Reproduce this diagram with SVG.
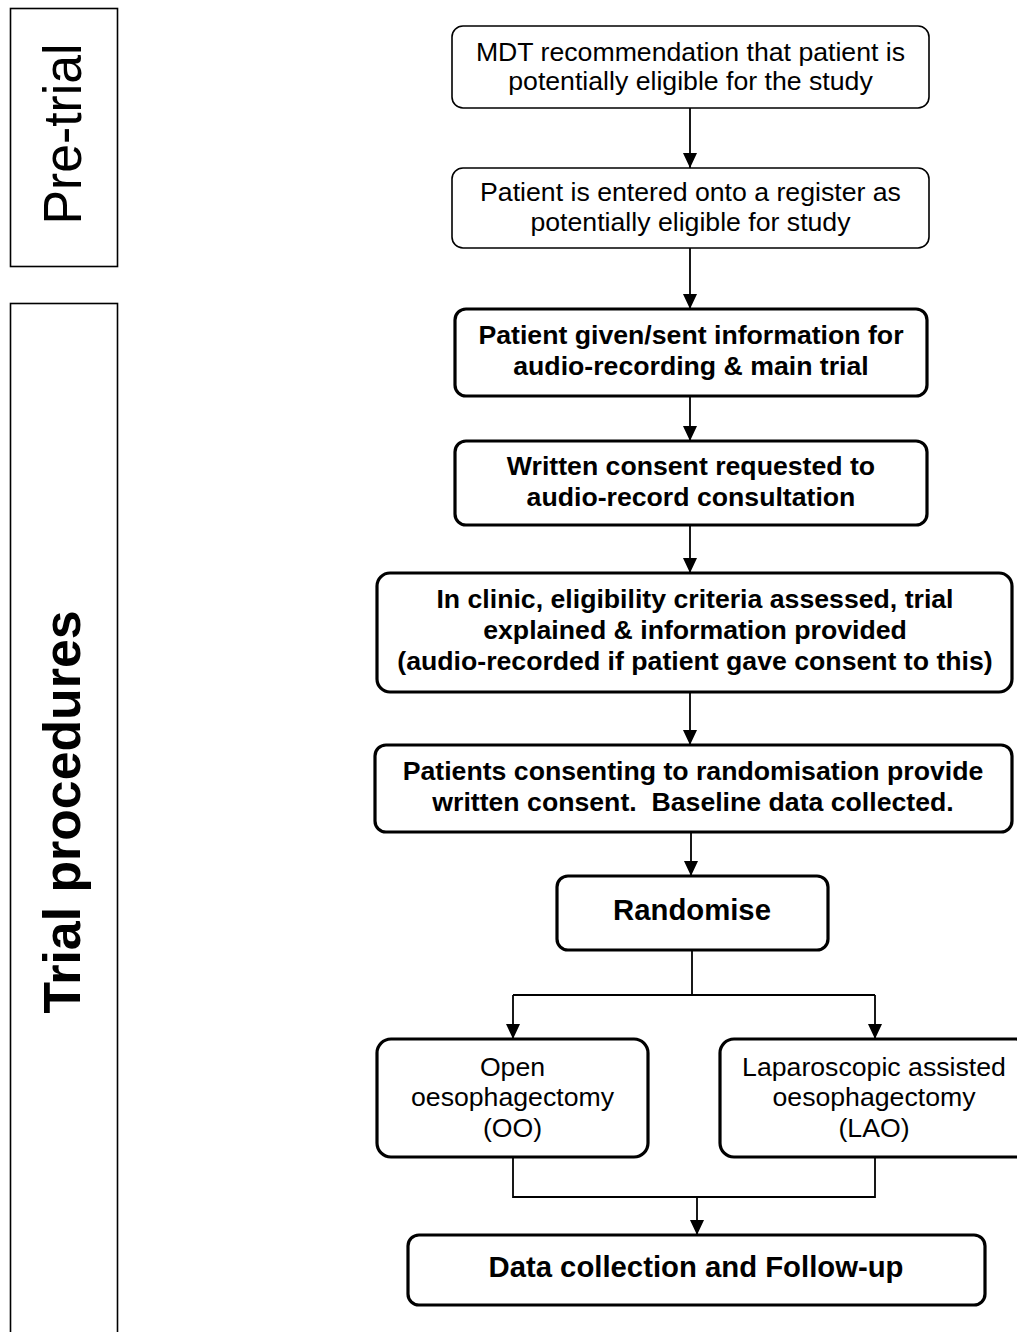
<svg xmlns="http://www.w3.org/2000/svg" width="1017" height="1332" viewBox="0 0 1017 1332">
<style>
.bg{fill:#fff}
.thin{fill:#fff;stroke:#000;stroke-width:1.6}
.thick{fill:#fff;stroke:#000;stroke-width:3.2}
.side{fill:#fff;stroke:#000;stroke-width:1.6}
.t{font-family:"Liberation Sans",Arial,sans-serif;font-size:26.67px;fill:#000;text-anchor:middle}
.b{font-weight:bold}
.big{font-size:29.3px}
.c{fill:none;stroke:#000;stroke-width:1.8}
</style>
<defs>
<marker id="ah" markerUnits="userSpaceOnUse" markerWidth="16" markerHeight="14" refX="15" refY="7" orient="auto">
<path d="M0,0 L15,7 L0,14 Z" fill="#000"/>
</marker>
</defs>
<rect class="bg" x="0" y="0" width="1017" height="1332"/>

<g id="label-pretrial">
<rect class="side" x="10.5" y="8.5" width="107" height="258"/>
<text class="t" style="font-size:54px" textLength="181" lengthAdjust="spacingAndGlyphs" transform="translate(81,134) rotate(-90)">Pre-trial</text>
</g>
<g id="label-trial">
<rect class="side" x="10.5" y="303.5" width="107" height="1040"/>
<text class="t b" style="font-size:52px" textLength="403" lengthAdjust="spacingAndGlyphs" transform="translate(80,812) rotate(-90)">Trial procedures</text>
</g>

<g id="connectors">
<line class="c" x1="690" y1="108" x2="690" y2="168" marker-end="url(#ah)"/>
<line class="c" x1="690" y1="248" x2="690" y2="309" marker-end="url(#ah)"/>
<line class="c" x1="690" y1="396" x2="690" y2="441" marker-end="url(#ah)"/>
<line class="c" x1="690" y1="525" x2="690" y2="573" marker-end="url(#ah)"/>
<line class="c" x1="690" y1="692" x2="690" y2="745" marker-end="url(#ah)"/>
<line class="c" x1="691" y1="832" x2="691" y2="876" marker-end="url(#ah)"/>
<polyline class="c" points="692,950 692,995"/>
<polyline class="c" points="513,995 875,995"/>
<line class="c" x1="513" y1="995" x2="513" y2="1039" marker-end="url(#ah)"/>
<line class="c" x1="875" y1="995" x2="875" y2="1039" marker-end="url(#ah)"/>
<polyline class="c" points="513,1157 513,1197 875,1197 875,1157"/>
<line class="c" x1="697" y1="1197" x2="697" y2="1235" marker-end="url(#ah)"/>
</g>

<g id="n1">
<rect class="thin" x="452" y="26" width="477" height="82" rx="11"/>
<text class="t" x="690.5" y="61">MDT recommendation that patient is</text>
<text class="t" x="690.5" y="90">potentially eligible for the study</text>
</g>
<g id="n2">
<rect class="thin" x="452" y="168" width="477" height="80" rx="11"/>
<text class="t" x="690.5" y="201">Patient is entered onto a register as</text>
<text class="t" x="690.5" y="231">potentially eligible for study</text>
</g>
<g id="n3">
<rect class="thick" x="455" y="309" width="472" height="87" rx="11"/>
<text class="t b" x="691" y="344">Patient given/sent information for</text>
<text class="t b" x="691" y="375">audio-recording &amp; main trial</text>
</g>
<g id="n4">
<rect class="thick" x="455" y="441" width="472" height="84" rx="11"/>
<text class="t b" x="691" y="475">Written consent requested to</text>
<text class="t b" x="691" y="506">audio-record consultation</text>
</g>
<g id="n5">
<rect class="thick" x="377" y="573" width="635" height="119" rx="13"/>
<text class="t b" x="695" y="608">In clinic, eligibility criteria assessed, trial</text>
<text class="t b" x="695" y="639">explained &amp; information provided</text>
<text class="t b" x="695" y="670">(audio-recorded if patient gave consent to this)</text>
</g>
<g id="n6">
<rect class="thick" x="375" y="745" width="637" height="87" rx="11"/>
<text class="t b" x="693" y="780">Patients consenting to randomisation provide</text>
<text class="t b" x="693" y="811">written consent.&#160; Baseline data collected.</text>
</g>
<g id="n7">
<rect class="thick" x="557" y="876" width="271" height="74" rx="11"/>
<text class="t b big" x="692" y="920">Randomise</text>
</g>
<g id="n8">
<rect class="thick" x="377" y="1039" width="271" height="118" rx="14"/>
<text class="t" x="512.5" y="1076">Open</text>
<text class="t" x="512.5" y="1106">oesophagectomy</text>
<text class="t" x="512.5" y="1137">(OO)</text>
</g>
<g id="n9">
<rect class="thick" x="720" y="1039" width="310" height="118" rx="14"/>
<text class="t" x="874" y="1076">Laparoscopic assisted</text>
<text class="t" x="874" y="1106">oesophagectomy</text>
<text class="t" x="874" y="1137">(LAO)</text>
</g>
<g id="n10">
<rect class="thick" x="408" y="1235" width="577" height="70" rx="11"/>
<text class="t b big" x="696" y="1277">Data collection and Follow-up</text>
</g>
</svg>
